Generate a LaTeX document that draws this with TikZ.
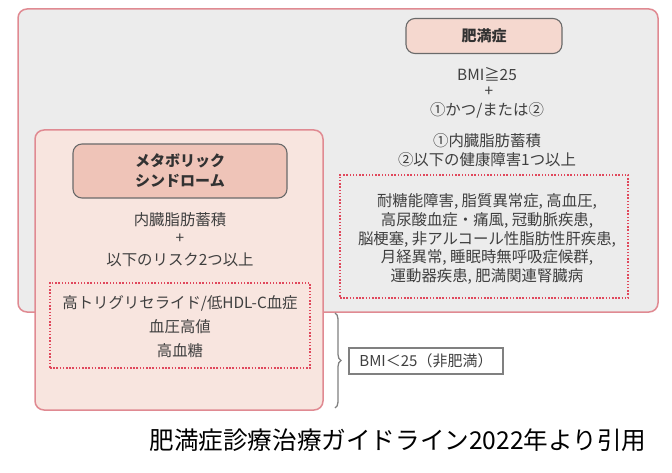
\documentclass[tikz,border=0pt]{standalone}
\usepackage{fontspec}
\setmainfont{Noto Sans CJK JP}
\usetikzlibrary{decorations.pathreplacing}
\definecolor{outerfill}{HTML}{ECECEC}
\definecolor{pinkline}{HTML}{E08A92}
\definecolor{metafill}{HTML}{F8E5DF}
\definecolor{titlefill}{HTML}{F5D8CF}
\definecolor{metatitlefill}{HTML}{EFC4B8}
\definecolor{titleline}{HTML}{6A6A6A}
\definecolor{dotred}{HTML}{E0485C}
\definecolor{txt}{HTML}{3F3F3F}
\definecolor{bracegray}{HTML}{808080}
\tikzset{
  outerbox/.style={draw=pinkline, line width=1.5pt, rounded corners=9pt},
  titlebox/.style={draw=titleline, line width=1.1pt, rounded corners=9pt, font=\fontsize{15}{20}\selectfont\bfseries, text=txt!80!black, align=center},
  dotbox/.style={draw=dotred, line width=1.5pt, dash pattern=on 1.5pt off 1.7pt, inner sep=0pt, align=center, text=txt, font=\fontsize{15}{18.6}\selectfont},
  bodytext/.style={text=txt, align=center, inner sep=0pt, font=\fontsize{15.4}{19}\selectfont}
}
\begin{document}
\begin{tikzpicture}[x=1pt,y=-1pt]
\useasboundingbox (0,0) rectangle (672,473);
% outer obesity box
\path[outerbox, fill=outerfill] (18,9) rectangle (658,312);
\node[titlebox, fill=titlefill, minimum width=156pt, minimum height=35pt] (himan) at (484,36) {肥満症};
\node[bodytext] (bmi) at (487,74) {BMI≧25};
\node[bodytext] (plus1) at (489,92) {+};
\node[bodytext] (kaatsu) at (487,110) {①かつ/または②};
\node[bodytext] (cond) at (487,150) {①内臓脂肪蓄積\\②以下の健康障害1つ以上};
\node[dotbox, minimum width=288pt, minimum height=123pt] (disbox) at (484,236.5) {};
\node[bodytext, font=\fontsize{15.4}{18.6}\selectfont] (dis) at (487,239) {耐糖能障害, 脂質異常症, 高血圧,\\高尿酸血症・痛風, 冠動脈疾患,\\脳梗塞, 非アルコール性脂肪性肝疾患,\\月経異常, 睡眠時無呼吸症候群,\\運動器疾患, 肥満関連腎臓病};
% metabolic syndrome box
\path[outerbox, fill=metafill] (35,130) rectangle (323,410);
\node[titlebox, fill=metatitlefill, minimum width=214pt, minimum height=54pt] (meta) at (180,171) {メタボリック\\シンドローム};
\node[bodytext] (visc) at (180,220) {内臓脂肪蓄積};
\node[bodytext] (plus2) at (180,239) {+};
\node[bodytext] (risk) at (180,260) {以下のリスク2つ以上};
\node[dotbox, minimum width=260pt, minimum height=85pt] (riskbox) at (180,325.5) {};
\node[bodytext, font=\fontsize{15.4}{24}\selectfont] (risks) at (180,327) {高トリグリセライド/低HDL-C血症\\血圧高値\\高血糖};
% brace and non-obese label
\coordinate (bt) at (335,313);
\coordinate (bb) at (335,408);
\draw[bracegray, line width=1.3pt, decorate, decoration={brace, amplitude=6pt}] (bt) -- (bb);
\node[draw=bracegray, line width=1.2pt, text=txt, inner sep=0pt, minimum width=154pt, minimum height=26pt, font=\fontsize{15}{18}\selectfont] (nonob) at (426,361) {BMI＜25（非肥満）};
% caption
\node[text=black, inner sep=0pt, font=\fontsize{24.6}{26}\selectfont] (cap) at (398,440) {肥満症診療治療ガイドライン2022年より引用};
\end{tikzpicture}
\end{document}
